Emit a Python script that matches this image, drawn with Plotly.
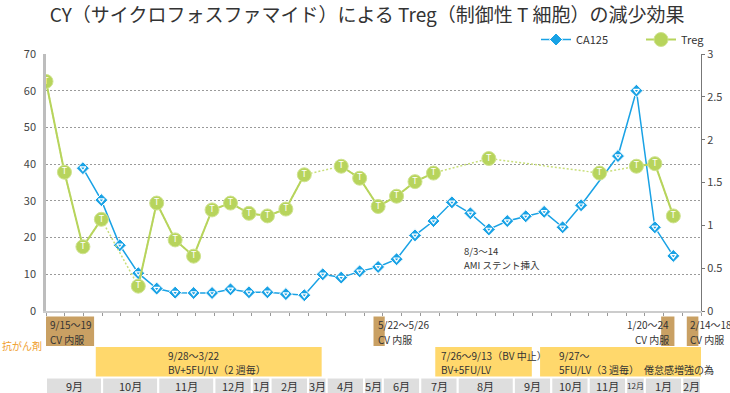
import plotly.graph_objects as go

# ---------------- data ----------------
idx = list(range(35))
ca125 = [None, None, 38.9, 30.2, 17.9, 10.3, 6.1, 5.0, 4.9, 4.9, 5.9, 5.1, 5.1, 4.6, 4.3,
         10.0, 9.1, 10.8, 12.0, 14.1, 20.6, 24.5, 29.6, 26.6, 22.2, 24.5, 25.8, 27.0, 22.8,
         28.8, None, 42.2, 60.0, 22.8, 15.0]
treg = [2.68, 1.62, 0.75, 1.07, None, 0.29, 1.26, 0.83, 0.64, 1.18, 1.26, 1.14, 1.11, 1.19,
        1.59, None, 1.69, 1.55, 1.22, 1.34, 1.51, 1.61, None, None, 1.78, None, None, None,
        None, None, 1.61, None, 1.69, 1.72, 1.11]

left_ticks = [0, 10, 20, 30, 40, 50, 60, 70]
right_ticks = [0, 0.5, 1, 1.5, 2, 2.5, 3]

month_labels = ["9月", "10月", "11月", "12月", "1月", "2月", "3月", "4月", "5月", "6月",
                "7月", "8月", "9月", "10月", "11月", "12月", "1月", "2月"]
month_edges = [0, 3, 6, 9, 11, 12, 14, 15, 17, 18, 20, 22, 25, 27, 29, 31, 32, 34, 35]

cv_labels = [("9/15～19", "CV 内服"), ("5/22～5/26", "CV 内服"),
             ("1/20～24", "CV 内服"), ("2/14～18", "CV 内服")]
cv_start = [0, 17.5, 32.87, 34.24]
cv_end = [2.57, 18.1, 33.58, 34.86]

chemo_labels = [("9/28～3/22", "BV+5FU/LV（2 週毎）"),
                ("7/26～9/13（BV 中止）", "BV+5FU/LV"),
                ("9/27～", "5FU/LV（3 週毎）　倦怠感増強の為")]
chemo_start = [2.66, 20.8, 26.4]
chemo_end = [14.73, 25.96, 35]

note_lines = ("8/3～14", "AMI ステント挿入")

# ---------------- layout helpers ----------------
FONT = "Noto Sans CJK JP"
T_MARGIN, B_MARGIN, H = 54, 82, 393
PLOT_H = H - T_MARGIN - B_MARGIN
PLOT_BOTTOM = H - B_MARGIN


def py(p):
    """pixel row -> paper y"""
    return (PLOT_BOTTOM - p) / PLOT_H


BLUE = "#19a2e5"
GREEN = "#b7d45c"

fig = go.Figure()

# Treg dotted connection (through gaps)
fig.add_trace(go.Scatter(x=idx, y=treg, yaxis="y2", mode="lines", connectgaps=True,
                         line=dict(color="#c9df7c", width=1.5, dash="2px,2px"),
                         showlegend=False, hoverinfo="skip"))
# CA125
fig.add_trace(go.Scatter(x=idx, y=ca125, mode="lines+markers", connectgaps=True, name="CA125",
                         line=dict(color=BLUE, width=1.5),
                         marker=dict(symbol="diamond", size=10, color=BLUE,
                                     line=dict(color="white", width=1))))
fig.add_trace(go.Scatter(x=idx, y=ca125, mode="markers", showlegend=False, hoverinfo="skip",
                         marker=dict(symbol="triangle-down-open", size=5, color="white",
                                     line=dict(color="white", width=1.2))))
# Treg solid
fig.add_trace(go.Scatter(x=idx, y=treg, yaxis="y2", mode="lines+markers", name="Treg",
                         connectgaps=False,
                         line=dict(color=GREEN, width=2),
                         marker=dict(symbol="circle", size=14, color=GREEN,
                                     line=dict(color="#cfe38f", width=1))))
fig.add_trace(go.Scatter(x=idx, y=treg, yaxis="y2", mode="text", showlegend=False,
                         hoverinfo="skip",
                         text=["T" if v is not None else "" for v in treg],
                         textposition="middle center",
                         textfont=dict(color="white", size=9, family=FONT)))

shapes = []
annotations = []


def label(x, ypix, text, anchor="left", size=10, color="#333"):
    annotations.append(dict(x=x, y=py(ypix), xref="x2", yref="paper",
                            text=text, showarrow=False, xanchor=anchor, yanchor="middle",
                            borderpad=0, font=dict(size=size, color=color, family=FONT)))


# month row
for i, lab in enumerate(month_labels):
    x0, x1 = month_edges[i], month_edges[i + 1]
    shapes.append(dict(type="rect", xref="x2", yref="paper", x0=x0, x1=x1,
                       y0=py(396), y1=py(377.5), fillcolor="#dedede",
                       line=dict(color="white", width=2), layer="below"))
    small = (x1 - x0) <= 1 and len(lab) > 2
    label((x0 + x1) / 2, 385.5, lab, anchor="center", size=8 if small else 11)

# CV rows
cv_text_x = [0.16, 17.71, 33.35, 34.38]
for i, (l1, l2) in enumerate(cv_labels):
    shapes.append(dict(type="rect", xref="x2", yref="paper", x0=cv_start[i], x1=cv_end[i],
                       y0=py(346), y1=py(316.5), fillcolor="#c9a063",
                       line=dict(width=0), layer="below"))
    anchor = "right" if i == 2 else "left"
    label(cv_text_x[i], 324.5, l1, anchor=anchor)
    label(cv_text_x[i], 339, l2, anchor=anchor)

# chemo rows
chemo_text_x = [6.49, 21.06, 27.35]
for i, (l1, l2) in enumerate(chemo_labels):
    shapes.append(dict(type="rect", xref="x2", yref="paper", x0=chemo_start[i], x1=chemo_end[i],
                       y0=py(376.5), y1=py(347), fillcolor="#ffd86c",
                       line=dict(width=0), layer="below"))
    label(chemo_text_x[i], 355, l1)
    label(chemo_text_x[i], 369.5, l2)

annotations.append(dict(x=-46 / 655, y=py(345.5), xref="paper", yref="paper", text="抗がん剤",
                        showarrow=False, xanchor="left", yanchor="middle",
                        font=dict(size=10, color="#f0a030", family=FONT)))

# AMI note inside the plot
label(22.3, 250.5, note_lines[0], size=9.5)
label(22.3, 264.5, note_lines[1], size=9.5)

fig.update_layout(
    width=730, height=393,
    margin=dict(l=46, r=29, t=T_MARGIN, b=B_MARGIN, autoexpand=False),
    paper_bgcolor="white", plot_bgcolor="white",
    font=dict(family=FONT, color="#333"),
    title=dict(text="CY（サイクロフォスファマイド）による Treg（制御性 T 細胞）の減少効果",
               x=0.503, xanchor="center", y=1 - 15 / 393, yanchor="middle",
               font=dict(size=19, color="#333", family=FONT)),
    xaxis=dict(range=[0, 35.5], visible=False, automargin=False),
    xaxis2=dict(range=[0, 35], overlaying="x", anchor="y", side="bottom", dtick=1,
                showticklabels=False, ticks="outside", ticklen=3, tickcolor="#999",
                showline=True, linecolor="#cccccc", linewidth=2, showgrid=False,
                zeroline=False, automargin=False),
    yaxis=dict(range=[0, 70], tickmode="array", tickvals=left_ticks,
               ticktext=[str(v) for v in left_ticks],
               showgrid=True, gridcolor="#9a9a9a", griddash="2px,2px",
               gridwidth=1, showline=True, linecolor="#bdbdbd", linewidth=2.5,
               ticks="outside", ticklen=5, tickcolor="rgba(0,0,0,0)",
               zeroline=False, automargin=False, ticklabeloverflow="allow",
               tickfont=dict(size=11, color="#444", family=FONT)),
    yaxis2=dict(range=[0, 3], tickmode="array", tickvals=right_ticks,
                ticktext=[f"{v:g}" for v in right_ticks],
                overlaying="y", side="right", showgrid=False,
                showline=True, linecolor="#777", linewidth=1, ticks="outside", ticklen=3,
                tickcolor="#777", zeroline=False, automargin=False, ticklabeloverflow="allow",
                tickfont=dict(size=11, color="#444", family=FONT)),
    legend=dict(orientation="h", x=(536 - 46) / 655, xanchor="left", y=py(39.5),
                yanchor="middle", font=dict(size=11, color="#333", family=FONT),
                bgcolor="rgba(0,0,0,0)", entrywidth=60, entrywidthmode="pixels"),
    shapes=shapes,
    annotations=annotations,
    showlegend=True,
)

fig.write_html("out.html", config={"displayModeBar": False},
               post_script="document.body.style.margin='0';document.body.style.padding='0';")
